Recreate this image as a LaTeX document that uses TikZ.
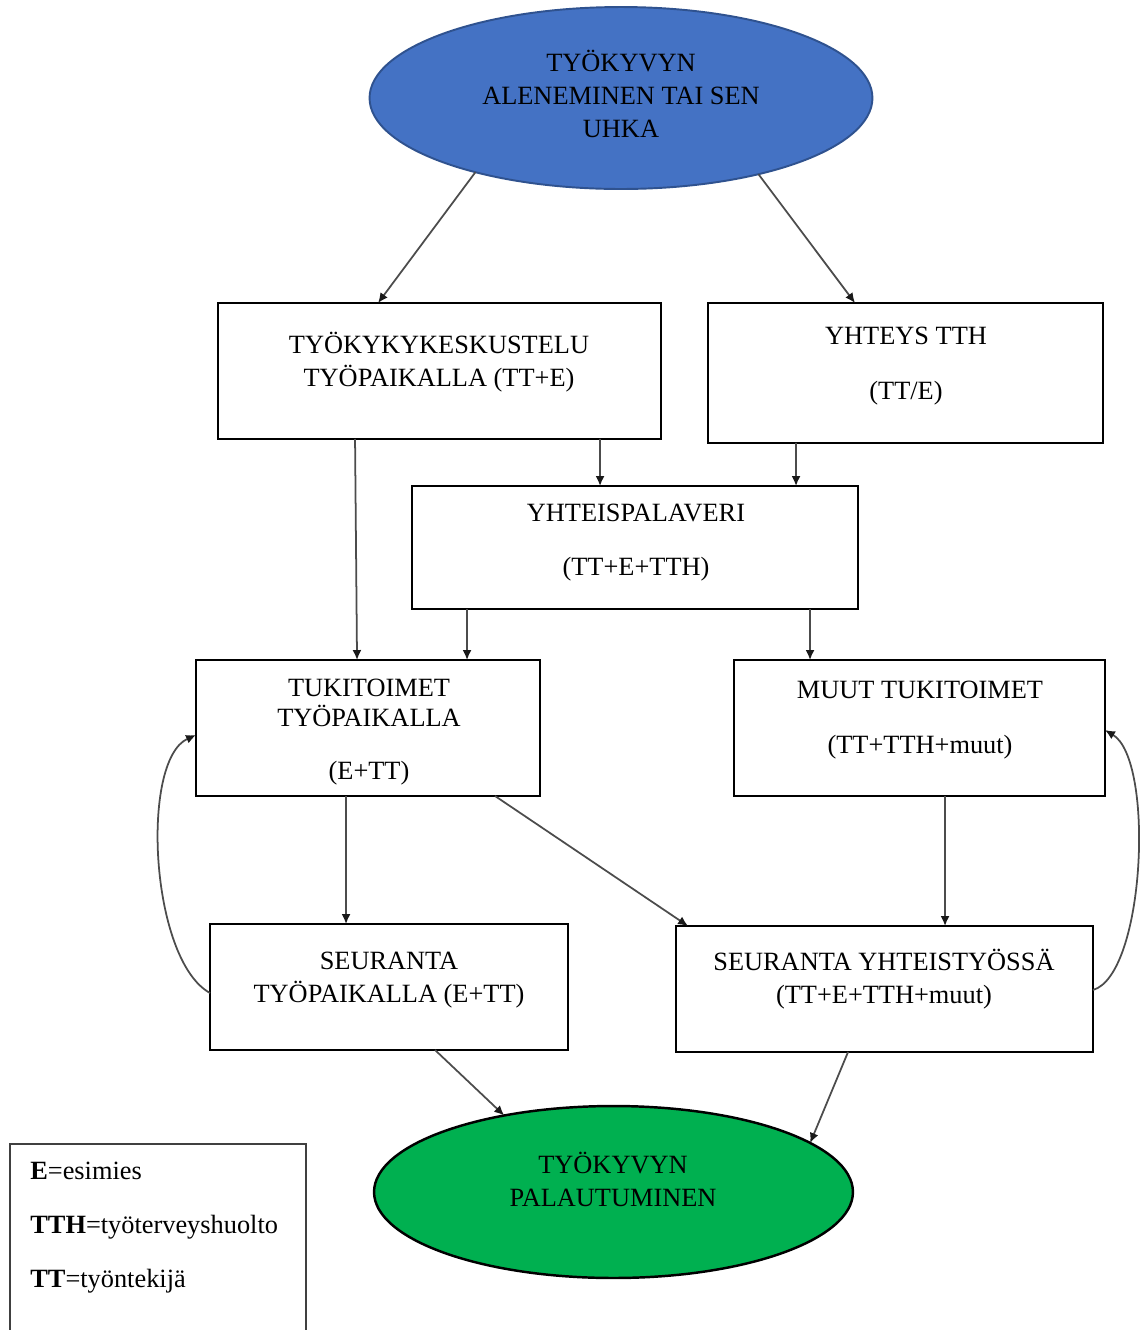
\documentclass[tikz,border=0pt]{standalone}
\usepackage{fontspec}
\setmainfont{Liberation Serif}
\usetikzlibrary{shapes,arrows.meta,calc}
\definecolor{ovalblue}{HTML}{4472C4}
\definecolor{ovaledge}{HTML}{2F528F}
\definecolor{ovalgreen}{HTML}{00B050}
\tikzstyle{oval} = [ellipse, draw, inner sep=0, outer sep=0]
\tikzstyle{block} = [rectangle, draw, line width=1.5pt, inner sep=0, outer sep=0]
\tikzstyle{txt} = [inner sep=0, align=center, font=\fontsize{15}{18.8}\selectfont]
\tikzstyle{line} = [draw, black!70, line width=1pt, -{Latex[length=0.2cm,width=0.18cm,color=black!90]}]

\begin{document}
\begin{tikzpicture}[x=0.02cm, y=-0.02cm]
%[node distance = 1cm, auto]
\useasboundingbox (0,0) rectangle (1142,1330);

\node [oval, fill=ovalblue, draw=ovaledge, line width=1.1pt, minimum width=10.06cm, minimum height=3.64cm] (threat) at (621,98) {};

\node [block, minimum width=8.86cm, minimum height=2.72cm] (talk) at (439.5,371) {};
\node [block, minimum width=7.9cm, minimum height=2.8cm] (tth) at (905.5,373) {};
\node [block, minimum width=8.92cm, minimum height=2.46cm] (meet) at (635,547.5) {};
\node [block, minimum width=6.88cm, minimum height=2.72cm] (work) at (368,728) {};
\node [block, minimum width=7.42cm, minimum height=2.72cm] (other) at (919.5,728) {};
\node [block, minimum width=7.16cm, minimum height=2.52cm] (follow) at (389,987) {};
\node [block, minimum width=8.34cm, minimum height=2.52cm] (joint) at (884.5,989) {};

\node [oval, fill=ovalgreen, line width=1.4pt, minimum width=9.58cm, minimum height=3.44cm] (recover) at (613.5,1192) {};

\node [txt] (threat_txt) at (621,94) {TYÖKYVYN\\ALENEMINEN TAI SEN\\UHKA};
\node [txt] (talk_txt) at (439,362) {TYÖKYKYKESKUSTELU\\TYÖPAIKALLA (TT+E)};
\node [txt] (tth_txt) at (906,366.5) {YHTEYS TTH\\[12.5pt](TT/E)};
\node [txt] (meet_txt) at (636,542.5) {YHTEISPALAVERI\\[11.5pt](TT+E+TTH)};
\node [txt] (work_txt) at (369,732) {TUKITOIMET\\[-1.5pt]TYÖPAIKALLA\\[11pt](E+TT)};
\node [txt] (other_txt) at (920,720.5) {MUUT TUKITOIMET\\[12.5pt](TT+TTH+muut)};
\node [txt] (follow_txt) at (389,980) {SEURANTA\\TYÖPAIKALLA (E+TT)};
\node [txt] (joint_txt) at (884,979) {SEURANTA YHTEISTYÖSSÄ\\(TT+E+TTH+muut)};
\node [txt] (recover_txt) at (613,1179.5) {TYÖKYVYN\\PALAUTUMINEN};

\path [line] (threat.207) -- ($(talk.north west)+(160,0)$);
\path [line] (threat.331) -- ($(tth.north west)+(147,0)$);
\path [line] ($(talk.south west)+(382,0)$) -- ($(meet.north west)+(188,0)$);
\path [line] ($(tth.south west)+(88,0)$) -- ($(meet.north west)+(384,0)$);
\path [line] ($(talk.south west)+(137,0)$) -- ($(work.north west)+(161,0)$);
\path [line] ($(meet.south west)+(55,0)$) -- ($(work.north west)+(271,0)$);
\path [line] ($(meet.south west)+(398,0)$) -- ($(other.north west)+(76,0)$);
\path [line] ($(work.south west)+(150,0)$) -- ($(follow.north west)+(136,0)$);
\path [line] ($(work.south west)+(299,0)$) -- ($(joint.north west)+(12,0)$);
\path [line] ($(other.south west)+(211,0)$) -- ($(joint.north west)+(269,0)$);
\path [line] ($(follow.west)+(0,6)$) .. controls (150,960) and (140,760) .. ($(work.west)+(0,7)$);
\path [line] ($(joint.east)+(0,1)$) .. controls (1145,975) and (1155,760) .. ($(other.east)+(0,2)$);
\path [line] ($(follow.south west)+(225,0)$) -- (recover.145);
\path [line] ($(joint.south west)+(172,0)$) -- (recover.14);

\draw [black!75, line width=0.8pt] (10,1345) -- (10,1144) -- (306,1144) -- (306,1345);
\node [txt, align=left, anchor=west] (legend) at (30,1227.5) {\textbf{E}=esimies\\[12pt]\textbf{TTH}=työterveyshuolto\\[12pt]\textbf{TT}=työntekijä};

\end{tikzpicture}
\end{document}
